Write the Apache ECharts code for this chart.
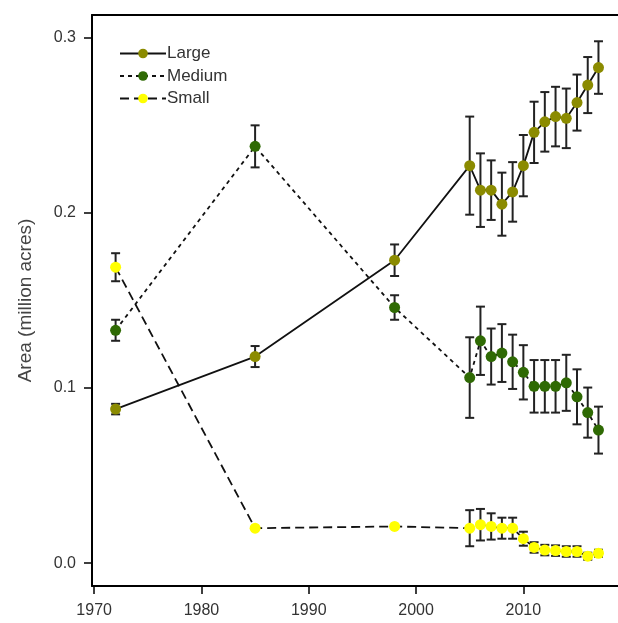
<!DOCTYPE html>
<html>
<head>
<meta charset="utf-8">
<script src="https://cdn.jsdelivr.net/npm/echarts@6/dist/echarts.min.js"></script>
<style>
  html, body { margin: 0; padding: 0; background: #fff; }
  #chart { width: 618px; height: 623px; }
</style>
</head>
<body>
<div id="chart"></div>
<script>
const years = [1972, 1985, 1998, 2005, 2006, 2007, 2008, 2009, 2010, 2011, 2012, 2013, 2014, 2015, 2016, 2017]

const largeVals = [0.088, 0.118, 0.173, 0.227, 0.213, 0.213, 0.205, 0.212, 0.227, 0.246, 0.252, 0.255, 0.254, 0.263, 0.273, 0.283]
const largeErr = [0.003, 0.006, 0.009, 0.028, 0.021, 0.017, 0.018, 0.017, 0.0175, 0.0175, 0.017, 0.017, 0.017, 0.016, 0.016, 0.015]

const mediumVals = [0.133, 0.238, 0.146, 0.106, 0.127, 0.118, 0.12, 0.115, 0.109, 0.101, 0.101, 0.101, 0.103, 0.095, 0.086, 0.076]
const mediumErr = [0.006, 0.012, 0.007, 0.023, 0.0195, 0.016, 0.0165, 0.0155, 0.0155, 0.015, 0.015, 0.015, 0.016, 0.0157, 0.0143, 0.0134]

const smallVals = [0.169, 0.02, 0.021, 0.02, 0.022, 0.021, 0.02, 0.02, 0.014, 0.009, 0.0075, 0.0072, 0.0067, 0.0067, 0.004, 0.0057]
const smallErr = [0.008, 0, 0, 0.0103, 0.009, 0.0075, 0.006, 0.006, 0.004, 0.003, 0.003, 0.003, 0.003, 0.003, 0.002, 0.002]

const xTicks = [1970, 1980, 1990, 2000, 2010]
const yTicks = [0, 0.1, 0.2, 0.3]

const colors = { Large: '#8b8b00', Medium: '#2f6a04', Small: '#ffff00' }

const chart = echarts.init(document.getElementById('chart'))

const pairs = (vals) => years.map((y, i) => [y, vals[i]])
const errData = (vals, errs) => years.map((y, i) => [y, vals[i] - errs[i], vals[i] + errs[i]])

const errorSeries = (vals, errs) => ({
  type: 'custom',
  silent: true,
  z: 1,
  data: errData(vals, errs),
  renderItem: (params, api) => {
    const lo = api.coord([api.value(0), api.value(1)])
    const hi = api.coord([api.value(0), api.value(2)])
    if (Math.abs(lo[1] - hi[1]) < 1) return null
    const w = 4.5
    const style = { stroke: '#222', lineWidth: 2 }
    return {
      type: 'group',
      children: [
        { type: 'line', shape: { x1: lo[0], y1: lo[1], x2: hi[0], y2: hi[1] }, style },
        { type: 'line', shape: { x1: lo[0] - w, y1: lo[1], x2: lo[0] + w, y2: lo[1] }, style },
        { type: 'line', shape: { x1: hi[0] - w, y1: hi[1], x2: hi[0] + w, y2: hi[1] }, style },
      ],
    }
  },
})

const lineSeries = (name, vals, dash) => ({
  name,
  type: 'line',
  z: 3,
  data: pairs(vals),
  symbol: 'circle',
  symbolSize: 11,
  itemStyle: { color: colors[name], borderWidth: 0 },
  lineStyle: { color: '#111', width: 1.8, type: dash },
})

const frameLine = { show: true, onZero: false, lineStyle: { color: '#000', width: 2 } }
const tickStyle = { color: '#000', width: 1.5 }

const option = {
  animation: false,
  textStyle: { fontFamily: 'Liberation Sans, Arial, sans-serif' },
  grid: { left: 92, top: 15, right: 0, bottom: 37 },
  legend: {
    left: 114,
    top: 40,
    orient: 'vertical',
    itemWidth: 46,
    itemHeight: 12,
    itemGap: 5.5,
    textStyle: { fontSize: 17, color: '#333', padding: [0, 0, 0, -4] },
    data: ['Large', 'Medium', 'Small'],
  },
  xAxis: [
    {
      type: 'value',
      min: 1969.8,
      max: 2018.82,
      splitLine: { show: false },
      axisLine: frameLine,
      axisTick: { show: true, length: 8, lineStyle: tickStyle, customValues: xTicks },
      axisLabel: { fontSize: 16, color: '#333', margin: 17, customValues: xTicks, formatter: (v) => String(v) },
    },
    {
      type: 'value',
      position: 'top',
      min: 1969.8,
      max: 2018.82,
      splitLine: { show: false },
      axisLine: frameLine,
      axisTick: { show: false },
      axisLabel: { show: false },
    },
  ],
  yAxis: {
    type: 'value',
    min: -0.013,
    max: 0.313,
    name: 'Area (million acres)',
    nameLocation: 'middle',
    nameGap: 57,
    nameTextStyle: { fontSize: 19, color: '#444' },
    splitLine: { show: false },
    axisLine: frameLine,
    axisTick: { show: true, length: 8, lineStyle: tickStyle, customValues: yTicks },
    axisLabel: { fontSize: 16, color: '#333', margin: 16, customValues: yTicks, formatter: (v) => v.toFixed(1) },
  },
  series: [
    errorSeries(largeVals, largeErr),
    errorSeries(mediumVals, mediumErr),
    errorSeries(smallVals, smallErr),
    lineSeries('Large', largeVals, 'solid'),
    lineSeries('Medium', mediumVals, [4, 4]),
    lineSeries('Small', smallVals, [9, 5]),
  ],
}

chart.setOption(option)
</script>
</body>
</html>
